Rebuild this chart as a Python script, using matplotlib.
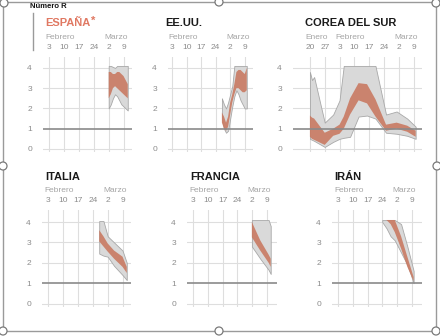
import matplotlib
matplotlib.use('Agg')
import matplotlib.pyplot as plt
import matplotlib.transforms as mtransforms
from matplotlib.patches import Circle, Rectangle
from matplotlib.text import Annotation
import pandas as pd

plt.rcParams['font.family'] = ['Liberation Sans', 'DejaVu Sans']

# --- data (R estimate bands: grey = wide interval, red = narrow interval) ---
esp_dates = ['2020-03-02', '2020-03-03', '2020-03-04', '2020-03-05', '2020-03-06',
             '2020-03-07', '2020-03-08', '2020-03-09', '2020-03-10', '2020-03-11']
esp_grey_hi = [4.1, 4.1, 4.05, 4.0, 4.1, 4.1, 4.1, 4.1, 4.1, 4.1]
esp_grey_lo = [2.0, 2.2, 2.5, 2.7, 2.6, 2.4, 2.2, 2.1, 2.0, 1.9]
esp_red_hi = [3.8, 3.8, 3.7, 3.7, 3.8, 3.8, 3.7, 3.6, 3.4, 3.2]
esp_red_lo = [2.5, 2.7, 3.0, 3.1, 3.0, 2.9, 2.8, 2.7, 2.6, 2.5]

usa_dates = ['2020-02-27', '2020-02-28', '2020-02-29', '2020-03-01', '2020-03-02',
             '2020-03-03', '2020-03-04', '2020-03-05', '2020-03-06', '2020-03-07',
             '2020-03-08', '2020-03-09', '2020-03-10']
usa_grey_hi = [2.5, 2.2, 2.0, 2.3, 2.7, 3.1, 4.1, 4.1, 4.1, 4.1, 4.1, 4.1, 4.1]
usa_grey_lo = [1.5, 1.0, 0.8, 0.9, 1.5, 2.1, 2.6, 2.9, 2.7, 2.4, 2.2, 2.0, 2.0]
usa_red_hi = [1.8, 1.6, 1.3, 1.6, 2.3, 2.7, 3.2, 3.8, 3.9, 3.9, 3.8, 3.7, 4.0]
usa_red_lo = [1.3, 1.0, 0.9, 1.1, 1.7, 2.3, 2.7, 3.0, 3.0, 2.9, 2.8, 2.8, 2.9]

kor_dates = ['2020-01-20', '2020-01-21', '2020-01-22', '2020-01-27', '2020-01-31',
             '2020-02-03', '2020-02-05', '2020-02-08', '2020-02-12', '2020-02-16',
             '2020-02-20', '2020-02-25', '2020-03-01', '2020-03-06', '2020-03-10']
kor_grey_hi = [3.8, 3.4, 3.55, 1.3, 1.7, 2.4, 4.1, 4.1, 4.1, 4.1, 4.1, 1.7, 1.85, 1.5, 1.1]
kor_grey_lo = [0.5, 0.45, 0.4, 0.1, 0.35, 0.5, 0.55, 0.6, 1.6, 1.65, 1.5, 0.8, 0.75, 0.65, 0.5]
kor_red_hi = [1.65, 1.55, 1.5, 0.8, 1.0, 1.2, 1.6, 2.5, 3.25, 3.2, 2.45, 1.2, 1.3, 1.15, 0.9]
kor_red_lo = [0.6, 0.5, 0.45, 0.2, 0.65, 0.75, 1.0, 1.7, 2.4, 2.25, 1.6, 0.9, 1.0, 0.85, 0.6]

ita_dates = ['2020-02-27', '2020-02-29', '2020-03-02', '2020-03-05', '2020-03-09', '2020-03-11']
ita_grey_hi = [4.05, 4.05, 3.3, 3.0, 2.6, 2.0]
ita_grey_lo = [2.45, 2.35, 2.3, 1.85, 1.4, 1.15]
ita_red_hi = [3.6, 3.3, 2.95, 2.6, 2.3, 1.8]
ita_red_lo = [3.05, 2.8, 2.55, 2.2, 1.8, 1.5]

fra_dates = ['2020-03-02', '2020-03-06', '2020-03-10', '2020-03-11']
fra_grey_hi = [4.1, 4.1, 4.1, 3.8]
fra_grey_lo = [2.8, 2.2, 1.65, 1.45]
fra_red_hi = [4.0, 3.1, 2.4, 2.2]
fra_red_lo = [3.25, 2.6, 2.0, 1.8]

irn_dates = ['2020-02-24', '2020-02-26', '2020-02-28', '2020-03-01', '2020-03-04',
             '2020-03-07', '2020-03-10']
irn_grey_hi = [4.1, 4.1, 4.1, 4.1, 3.9, 2.8, 1.6]
irn_grey_lo = [4.0, 3.7, 3.3, 3.1, 2.5, 1.9, 1.0]
irn_red_hi = [4.1, 4.1, 4.1, 4.1, 3.3, 2.3, 1.3]
irn_red_lo = [4.1, 4.1, 3.9, 3.5, 2.7, 1.8, 1.1]

week_ticks = ['2020-02-03', '2020-02-10', '2020-02-17', '2020-02-24', '2020-03-02', '2020-03-09']
week_labels = ['3', '10', '17', '24', '2', '9']
kor_ticks = ['2020-01-20', '2020-01-27'] + week_ticks
kor_labels = ['20', '27'] + week_labels

W, H = 440, 336
GREY = '#d9d9d9'
GREY_EDGE = '#a8a8a8'
RED = '#c97a62'
GRID = '#dedede'
TXT = '#8c8c8c'

fig = plt.figure(figsize=(W / 100, H / 100), dpi=100)


def px_box(left, top, width, height):
    return [left / W, 1 - (top + height) / H, width / W, height / H]


def panel(box, title, title_xy, dates, ghi, glo, rhi, rlo, xlim, ticks, labels, months,
          ylim, title_color='#1a1a1a'):
    ax = fig.add_axes(px_box(*box))
    d = pd.to_datetime(dates)
    ax.fill_between(d, glo, ghi, facecolor=GREY, edgecolor=GREY_EDGE, lw=0.6, zorder=2)
    ax.fill_between(d, rlo, rhi, facecolor=RED, edgecolor='none', alpha=0.9, zorder=3)
    ax.set_xlim(pd.Timestamp(xlim[0]), pd.Timestamp(xlim[1]))
    ax.set_ylim(*ylim)
    for t in ticks:
        ax.axvline(pd.Timestamp(t), color=GRID, lw=0.8, zorder=1)
    for y in [0, 2, 3, 4]:
        ax.axhline(y, color=GRID, lw=0.8, zorder=1)
    ax.axhline(1, color='#8a8a8a', lw=1.2, zorder=4)
    ax.set_xticks(pd.to_datetime(ticks))
    ax.set_xticklabels(labels)
    ax.xaxis.tick_top()
    ax.set_yticks([0, 1, 2, 3, 4])
    ax.tick_params(length=0, labelsize=6, labelcolor=TXT)
    ax.tick_params(axis='y', pad=8)
    ax.tick_params(axis='x', pad=4)
    for s in ax.spines.values():
        s.set_visible(False)
    tr = mtransforms.blended_transform_factory(ax.transData, ax.transAxes)
    month_y = 1.21 if box[1] < 100 else 1.2
    for m, x in months:
        ax.text(pd.Timestamp(x), month_y, m, transform=tr, fontsize=6, color='#a5a5a5',
                ha='left', va='center')
    t = fig.text(title_xy[0] / W, 1 - title_xy[1] / H, title, fontsize=8, fontweight='bold',
                 color=title_color, ha='left', va='center')
    return t


top_ylim = (-0.15, 4.54)
bot_ylim = (-0.17, 4.59)
feb_mar = [('Febrero', '2020-02-01'), ('Marzo', '2020-02-29')]

esp_title = panel((43, 57, 89, 95), 'ESPAÑA', (45, 23), esp_dates, esp_grey_hi, esp_grey_lo,
                  esp_red_hi, esp_red_lo, ('2020-01-31', '2020-03-13'), week_ticks, week_labels,
                  feb_mar, top_ylim, '#e07862')
# asterisk just after the title, superscript-like
fig.add_artist(Annotation('*', xy=(1, 1), xycoords=esp_title, xytext=(0.5, 1.5),
                          textcoords='offset points', fontsize=8, fontweight='bold',
                          color='#e07862', ha='left', va='top'))
panel((168, 57, 85, 95), 'EE.UU.', (165, 23), usa_dates, usa_grey_hi, usa_grey_lo,
      usa_red_hi, usa_red_lo, ('2020-02-01', '2020-03-13'), week_ticks, week_labels,
      feb_mar, top_ylim)
panel((293, 57, 129, 95), 'COREA DEL SUR', (305, 23), kor_dates, kor_grey_hi, kor_grey_lo,
      kor_red_hi, kor_red_lo, ('2020-01-12', '2020-03-13'), kor_ticks, kor_labels,
      [('Enero', '2020-01-18'), ('Febrero', '2020-02-01'), ('Marzo', '2020-02-29')], top_ylim)
panel((42, 210, 89, 97), 'ITALIA', (45, 177), ita_dates, ita_grey_hi, ita_grey_lo,
      ita_red_hi, ita_red_lo, ('2020-01-31', '2020-03-13'), week_ticks, week_labels,
      feb_mar, bot_ylim)
panel((187, 210, 90, 97), 'FRANCIA', (190, 177), fra_dates, fra_grey_hi, fra_grey_lo,
      fra_red_hi, fra_red_lo, ('2020-01-31', '2020-03-14'), week_ticks, week_labels,
      feb_mar, bot_ylim)
panel((332, 210, 90, 97), 'IRÁN', (334, 177), irn_dates, irn_grey_hi, irn_grey_lo,
      irn_red_hi, irn_red_lo, ('2020-01-31', '2020-03-14'), week_ticks, week_labels,
      feb_mar, bot_ylim)

# header label
fig.text(30 / W, 1 - 6 / H, 'Número R', fontsize=5.5, fontweight='bold', color='#111111',
         ha='left', va='center')

# overlay in pixel coords: guide line, document frame, selection handles
ov = fig.add_axes([0, 0, 1, 1], zorder=10)
ov.set_xlim(0, W)
ov.set_ylim(H, 0)
ov.axis('off')
ov.patch.set_alpha(0)
ov.plot([33, 33], [13, 50], color='#9a9a9a', lw=1)
ov.add_patch(Rectangle((3, 2), 433, 329, fill=False, edgecolor='#9a9a9a', lw=1))
for cx, cy in [(4, 3), (219, 2), (436, 3), (3, 166), (437, 166), (3, 331), (219, 331), (436, 331)]:
    ov.add_patch(Circle((cx, cy), 4, facecolor='white', edgecolor='#7a7a7a', lw=0.9))

fig.savefig('out.png', dpi=100)
